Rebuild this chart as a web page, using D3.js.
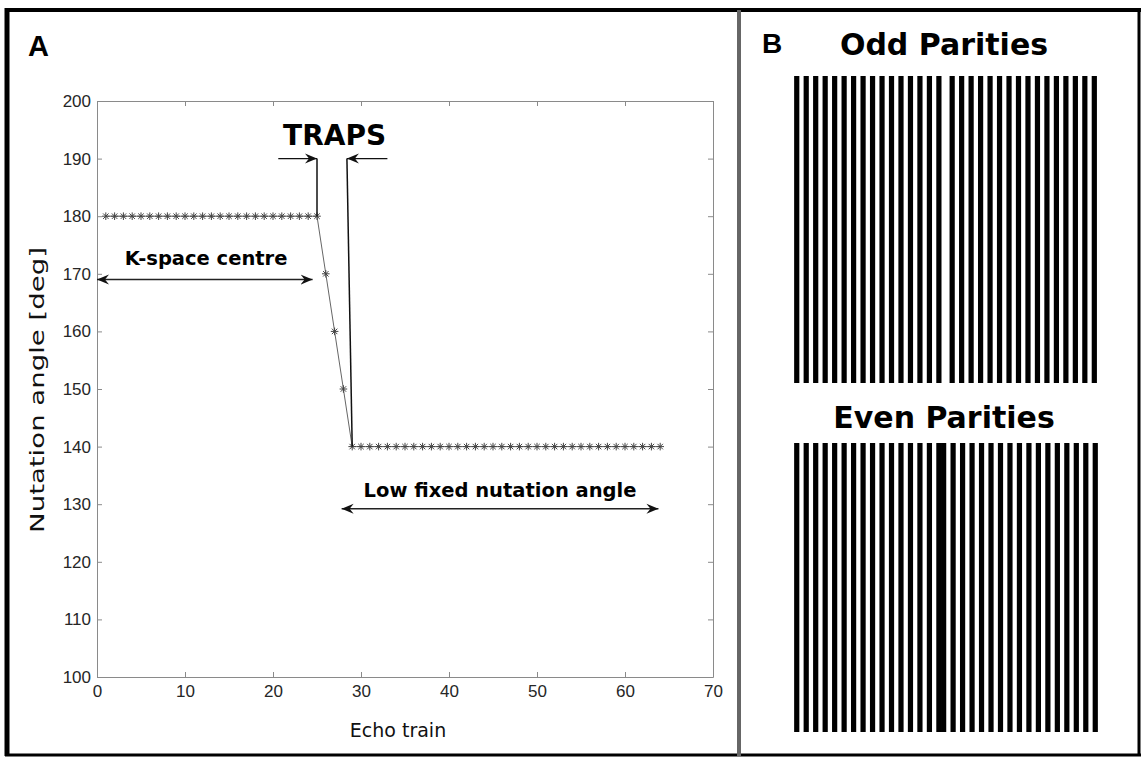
<!DOCTYPE html>
<html>
<head>
<meta charset="utf-8">
<script src="https://cdn.jsdelivr.net/npm/d3@7"></script>
<style>
body { margin: 0; background: #fff; }
.tick text { font-family: "Liberation Sans", Arial, sans-serif; font-size: 17px; fill: #262626; }
.bold { font-family: "DejaVu Sans", Verdana, sans-serif; font-weight: bold; fill: #000; }
.lab { font-family: "DejaVu Sans", sans-serif; font-size: 19px; fill: #111; }
</style>
</head>
<body>
<div id="chart"></div>
<script>
// Panel A: nutation angle along the echo train
var echoes = [1,2,3,4,5,6,7,8,9,10,11,12,13,14,15,16,17,18,19,20,21,22,23,24,25,
              26,27,28,29,30,31,32,33,34,35,36,37,38,39,40,41,42,43,44,45,46,47,48,
              49,50,51,52,53,54,55,56,57,58,59,60,61,62,63,64];
var nutation = [180,180,180,180,180,180,180,180,180,180,180,180,180,180,180,180,180,180,180,180,180,180,180,180,180,
                170,160,150,140,140,140,140,140,140,140,140,140,140,140,140,140,140,140,140,140,140,140,140,
                140,140,140,140,140,140,140,140,140,140,140,140,140,140,140,140];
var xTicks = [0,10,20,30,40,50,60,70];
var yTicks = [100,110,120,130,140,150,160,170,180,190,200];

// annotations, in data units
var trapsArrows = [[20.6,25.0],[33.0,28.4]];   // at 190 deg
var trapsLeads = [[[25,190],[25,180]],[[28.4,190],[29,140]]];
var spans = [
  {text: "K-space centre", x0: 0, x1: 24.5, y: 169, tx: 12.4, ty: 171.5},
  {text: "Low fixed nutation angle", x0: 27.8, x1: 63.8, y: 129.2, tx: 45.8, ty: 131.3}
];

// Panel B: k-space line order
var oddLines = [1,2,3,4,5,6,7,8,9,10,11,12,13,14,15,16,
                17.4,18.4,19.4,20.4,21.4,22.4,23.4,24.4,25.4,26.4,27.4,28.4,29.4,30.4,31.4,32.4];
var evenLines = [1,2,3,4,5,6,7,8,9,10,11,12,13,14,15,16,16.5,
                 17.5,18.5,19.5,20.5,21.5,22.5,23.5,24.5,25.5,26.5,27.5,28.5,29.5,30.5,31.5,32.5];

var W = 1146, H = 758;
var svg = d3.select("#chart").append("svg").attr("width", W).attr("height", H);
svg.append("rect").attr("width", W).attr("height", H).attr("fill", "#fff");

var defs = svg.append("defs");
defs.append("marker").attr("id", "arr")
    .attr("markerUnits", "userSpaceOnUse")
    .attr("viewBox", "-12 -6 14 12")
    .attr("markerWidth", 14).attr("markerHeight", 12)
    .attr("refX", 0).attr("refY", 0)
    .attr("orient", "auto-start-reverse")
  .append("path").attr("d", "M0,0L-12,-5L-8,0L-12,5Z").attr("fill", "#111");

// frame
svg.append("line").attr("x1", 7).attr("x2", 7).attr("y1", 8).attr("y2", 756).attr("stroke", "#000").attr("stroke-width", 5);
svg.append("line").attr("x1", 5).attr("x2", 1141).attr("y1", 10).attr("y2", 10).attr("stroke", "#000").attr("stroke-width", 4);
svg.append("line").attr("x1", 1139).attr("x2", 1139).attr("y1", 8).attr("y2", 756).attr("stroke", "#000").attr("stroke-width", 3);
svg.append("line").attr("x1", 5).attr("x2", 1141).attr("y1", 755).attr("y2", 755).attr("stroke", "#000").attr("stroke-width", 3);
svg.append("line").attr("x1", 739).attr("x2", 739).attr("y1", 10).attr("y2", 756).attr("stroke", "#666").attr("stroke-width", 4);

// ---- panel A
var x = d3.scaleLinear().domain([0, 70]).range([97, 713]);
var y = d3.scaleLinear().domain([100, 200]).range([677, 101]);

function styleAxis(g, labels) {
  g.select(".domain").attr("stroke", "#8a8a8a");
  g.selectAll(".tick line").attr("stroke", "#8a8a8a");
  if (!labels) g.selectAll(".tick text").remove();
}
svg.append("g").attr("transform", "translate(0,677)")
   .call(d3.axisBottom(x).tickValues(xTicks).tickSize(-5).tickSizeOuter(0).tickPadding(8))
   .call(styleAxis, true);
svg.append("g").attr("transform", "translate(0,101)")
   .call(d3.axisTop(x).tickValues(xTicks).tickSize(-5).tickSizeOuter(0))
   .call(styleAxis, false);
svg.append("g").attr("transform", "translate(97,0)")
   .call(d3.axisLeft(y).tickValues(yTicks).tickSize(-5).tickSizeOuter(0).tickPadding(6))
   .call(styleAxis, true);
svg.append("g").attr("transform", "translate(713,0)")
   .call(d3.axisRight(y).tickValues(yTicks).tickSize(-5).tickSizeOuter(0))
   .call(styleAxis, false);

var pts = echoes.map(function(e, i) { return [e, nutation[i]]; });
var line = d3.line().x(function(d) { return x(d[0]); }).y(function(d) { return y(d[1]); });
svg.append("path").datum(pts).attr("d", line)
   .attr("fill", "none").attr("stroke", "#666").attr("stroke-width", 1);

var r = 3.8, a = r * 0.72;
var star = "M0," + (-r) + "V" + r + "M" + (-r) + ",0H" + r +
           "M" + (-a) + "," + (-a) + "L" + a + "," + a + "M" + (-a) + "," + a + "L" + a + "," + (-a);
svg.append("g").selectAll("path").data(pts).join("path")
   .attr("transform", function(d) { return "translate(" + x(d[0]) + "," + y(d[1]) + ")"; })
   .attr("d", star).attr("fill", "none").attr("stroke", "#444").attr("stroke-width", 1);

// TRAPS annotation
svg.append("text").attr("class", "bold").attr("x", x(27.0)).attr("y", y(192.4))
   .attr("text-anchor", "middle").attr("font-size", 28).text("TRAPS");
trapsArrows.forEach(function(p) {
  svg.append("line").attr("x1", x(p[0])).attr("x2", x(p[1])).attr("y1", y(190)).attr("y2", y(190))
     .attr("stroke", "#111").attr("stroke-width", 1.2).attr("marker-end", "url(#arr)");
});
trapsLeads.forEach(function(s) {
  svg.append("path").attr("d", line(s)).attr("stroke", "#111").attr("stroke-width", 1.5).attr("fill", "none");
});

spans.forEach(function(s) {
  svg.append("line").attr("x1", x(s.x0)).attr("x2", x(s.x1)).attr("y1", y(s.y)).attr("y2", y(s.y))
     .attr("stroke", "#222").attr("stroke-width", 1.4)
     .attr("marker-start", "url(#arr)").attr("marker-end", "url(#arr)");
  svg.append("text").attr("class", "bold").attr("x", x(s.tx)).attr("y", y(s.ty))
     .attr("text-anchor", "middle").attr("font-size", 19.5).text(s.text);
});

svg.append("text").attr("class", "lab").attr("x", 398).attr("y", 737)
   .attr("text-anchor", "middle").text("Echo train");
// the label is stretched along its length, as in the source figure
svg.append("text").attr("class", "lab").attr("transform", "translate(44,390) rotate(-90) scale(1.45,1)")
   .attr("text-anchor", "middle").text("Nutation angle [deg]");

svg.append("text").attr("x", 28).attr("y", 56)
   .attr("font-family", "Liberation Sans, Arial, sans-serif").attr("font-weight", "bold")
   .attr("font-size", 29).text("A");

// ---- panel B
svg.append("text").attr("x", 762).attr("y", 53)
   .attr("font-family", "Liberation Sans, Arial, sans-serif").attr("font-weight", "bold")
   .attr("font-size", 28).text("B");

var bx = d3.scaleLinear().domain([0.5, 33]).range([792, 1100]);
var bw = (bx(2) - bx(1)) * 0.55;

function bars(lines, top, bottom, title, ty) {
  svg.append("text").attr("class", "bold").attr("x", 944).attr("y", ty)
     .attr("text-anchor", "middle").attr("font-size", 30).text(title);
  svg.append("g").selectAll("rect").data(lines).join("rect")
     .attr("x", function(d) { return bx(d) - bw / 2; })
     .attr("width", bw).attr("y", top).attr("height", bottom - top)
     .attr("fill", "#000");
}
bars(oddLines, 76, 383, "Odd Parities", 55);
bars(evenLines, 443, 732, "Even Parities", 428);
</script>
</body>
</html>
